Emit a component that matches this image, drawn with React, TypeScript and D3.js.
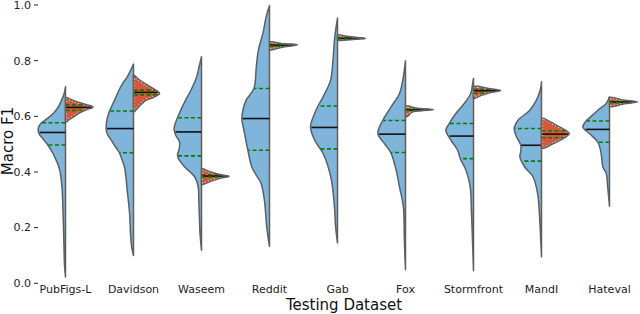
import * as d3 from 'd3';

const categories = ['PubFigs-L', 'Davidson', 'Waseem', 'Reddit', 'Gab', 'Fox', 'Stormfront', 'MandI', 'Hateval'];

// [macro F1, density], top to bottom
const pubfigsBlue: [number, number][] = [[0.706, 0], [0.68, 0.5], [0.658, 1.3], [0.63, 2.6], [0.61, 4.1], [0.59, 6.3], [0.577, 8], [0.56, 9.0], [0.55, 9.1], [0.535, 8.7], [0.52, 7.6], [0.497, 5.9], [0.475, 4.6], [0.454, 3.6], [0.43, 2.6], [0.406, 1.9], [0.37, 1.4], [0.335, 1.1], [0.25, 0.8], [0.13, 0.5], [0.06, 0.3], [0.023, 0]];
const davidsonBlue: [number, number][] = [[0.788, 0], [0.76, 1.2], [0.74, 2.2], [0.718, 3.6], [0.69, 5], [0.658, 6.3], [0.635, 7.3], [0.619, 8], [0.59, 8.8], [0.565, 9.1], [0.545, 9.0], [0.53, 8.4], [0.514, 7.4], [0.49, 6], [0.469, 4.7], [0.44, 3.7], [0.418, 3], [0.38, 2.5], [0.335, 2.1], [0.25, 1.3], [0.18, 1], [0.13, 0.6], [0.1, 0]];
const waseemBlue: [number, number][] = [[0.814, 0], [0.778, 0.8], [0.745, 1.5], [0.718, 2.5], [0.69, 3.7], [0.658, 5.3], [0.625, 6.8], [0.595, 8], [0.57, 8.9], [0.55, 9.1], [0.53, 8.5], [0.508, 7.3], [0.485, 7.4], [0.458, 8], [0.44, 7.2], [0.418, 5.6], [0.4, 3.8], [0.382, 2.2], [0.346, 1.1], [0.3, 0.9], [0.238, 0.7], [0.18, 0.5], [0.119, 0]];
const redditBlue: [number, number][] = [[0.998, 0], [0.958, 1.1], [0.898, 2.2], [0.838, 3.7], [0.778, 4.4], [0.7, 5.2], [0.658, 7.8], [0.625, 8.8], [0.592, 9.2], [0.538, 8.3], [0.478, 7.2], [0.418, 5.9], [0.385, 4.2], [0.359, 2.8], [0.299, 1.7], [0.2, 0.9], [0.133, 0]];
const gabBlue: [number, number][] = [[0.953, 0], [0.886, 0.9], [0.802, 1.5], [0.73, 2.3], [0.67, 4.8], [0.637, 6.5], [0.598, 8.1], [0.562, 9], [0.514, 7.6], [0.467, 4.8], [0.418, 3.1], [0.37, 2], [0.287, 1.1], [0.2, 0.6], [0.145, 0]];
const foxBlue: [number, number][] = [[0.8, 0], [0.73, 0.9], [0.682, 2], [0.634, 4.8], [0.585, 7.6], [0.538, 9.2], [0.502, 7], [0.467, 4.8], [0.406, 3.1], [0.346, 2], [0.274, 0.7], [0.166, 0.4], [0.1, 0.2], [0.049, 0]];
const stormfrontBlue: [number, number][] = [[0.736, 0], [0.71, 0.4], [0.682, 0.9], [0.646, 3.1], [0.61, 5.9], [0.574, 8.1], [0.55, 9.2], [0.514, 7.5], [0.478, 5.3], [0.448, 4.4], [0.406, 2.5], [0.346, 1.1], [0.263, 0.7], [0.143, 0.3], [0.045, 0]];
const mandiBlue: [number, number][] = [[0.724, 0], [0.706, 0.2], [0.682, 0.8], [0.658, 1.7], [0.622, 3.9], [0.586, 7.8], [0.556, 9.1], [0.526, 8.3], [0.496, 6.9], [0.475, 6.9], [0.454, 7.2], [0.418, 5.6], [0.382, 2.8], [0.323, 1.3], [0.25, 0.7], [0.166, 0.3], [0.095, 0]];
const hatevalBlue: [number, number][] = [[0.67, 0], [0.646, 1.1], [0.622, 3.9], [0.598, 6.3], [0.583, 7.8], [0.562, 8.9], [0.538, 6.7], [0.507, 3.9], [0.467, 2.8], [0.418, 2.2], [0.395, 1.1], [0.346, 0.6], [0.277, 0]];

const pubfigsRed: [number, number][] = [[0.668, 0.3], [0.66, 2.0], [0.65, 4.5], [0.642, 7], [0.636, 9], [0.632, 9.1], [0.626, 7.5], [0.615, 5.2], [0.6, 3.0], [0.59, 1.5], [0.58, 0.3]];
const davidsonRed: [number, number][] = [[0.748, 0.3], [0.735, 1.5], [0.718, 3.7], [0.7, 6.5], [0.69, 8], [0.682, 8.7], [0.675, 8], [0.665, 6], [0.658, 4.2], [0.645, 2.8], [0.634, 1.8], [0.616, 0.3]];
const waseemRed: [number, number][] = [[0.412, 0.5], [0.4, 3], [0.39, 6.5], [0.385, 9.2], [0.378, 6.5], [0.368, 3.5], [0.355, 0.5]];
const redditRed: [number, number][] = [[0.868, 1], [0.862, 4], [0.857, 9.3], [0.85, 5], [0.844, 2.5], [0.838, 0.5]];
const gabRed: [number, number][] = [[0.892, 1], [0.888, 3], [0.884, 6], [0.88, 9.3], [0.877, 6], [0.874, 3], [0.872, 1]];
const foxRed: [number, number][] = [[0.637, 1], [0.63, 3.5], [0.624, 9.3], [0.62, 5], [0.614, 2], [0.605, 1.2], [0.598, 0.3]];
const stormfrontRed: [number, number][] = [[0.708, 1.5], [0.7, 5], [0.693, 9.1], [0.686, 6], [0.678, 3.5], [0.67, 1.5], [0.664, 0.3]];
const mandiRed: [number, number][] = [[0.592, 1], [0.58, 3], [0.565, 5.5], [0.55, 8], [0.538, 9.3], [0.525, 8], [0.51, 5.5], [0.497, 3], [0.485, 0.8]];
const hatevalRed: [number, number][] = [[0.668, 1.2], [0.66, 4], [0.652, 9.4], [0.645, 5], [0.64, 3], [0.634, 0.8]];

const blueProfiles = [pubfigsBlue, davidsonBlue, waseemBlue, redditBlue, gabBlue, foxBlue, stormfrontBlue, mandiBlue, hatevalBlue];
const redProfiles = [pubfigsRed, davidsonRed, waseemRed, redditRed, gabRed, foxRed, stormfrontRed, mandiRed, hatevalRed];

const blueQ1 = [0.497, 0.469, 0.458, 0.478, 0.483, 0.47, 0.448, 0.439, 0.507];
const blueMedian = [0.542, 0.556, 0.544, 0.592, 0.56, 0.536, 0.529, 0.496, 0.553];
const blueQ3 = [0.577, 0.619, 0.595, 0.7, 0.637, 0.585, 0.574, 0.556, 0.583];
const redQ1 = [0.621, 0.677, 0.382, 0.852, 0.878, 0.621, 0.683, 0.523, 0.649];
const redMedian = [0.632, 0.686, 0.385, 0.855, 0.88, 0.623, 0.692, 0.536, 0.651];
const redQ3 = [0.641, 0.694, 0.389, 0.858, 0.882, 0.625, 0.697, 0.548, 0.653];

const yTicks = [0, 0.2, 0.4, 0.6, 0.8, 1.0];

const W = 640;
const H = 314;
const BLUE = '#7fb5db';
const RED = '#d4573b';
const EDGE = '#5f5f5f';

function densityAt(profile: [number, number][], v: number) {
  for (let i = 0; i < profile.length - 1; i++) {
    const [v0, d0] = profile[i];
    const [v1, d1] = profile[i + 1];
    if (v <= v0 && v >= v1) {
      const t = (v0 - v) / (v0 - v1 || 1);
      return d0 + (d1 - d0) * t;
    }
  }
  return 0;
}

export default function App() {
  const x = d3.scalePoint<string>().domain(categories).range([65.5, 609.5]);
  const y = d3.scaleLinear().domain([0, 1]).range([283.3, 5]);
  const w = d3.scaleLinear().domain([0, 10]).range([0, 30]);

  const half = (cx: number, side: number) =>
    d3.area<[number, number]>()
      .y(d => y(d[0]))
      .x0(cx)
      .x1(d => cx + side * w(d[1]))
      .curve(d3.curveCatmullRom);

  const qLine = (cx: number, side: number, profile: [number, number][], v: number, key: string, dashed: boolean) => {
    const ww = w(densityAt(profile, v)) * 0.97;
    return (
      <line key={key} x1={cx} x2={cx + side * ww} y1={y(v)} y2={y(v)}
        stroke={dashed ? 'green' : '#111'} strokeWidth={1.6}
        strokeDasharray={dashed ? '4,2.5' : undefined} />
    );
  };

  return (
    <svg width={W} height={H} style={{ position: 'absolute', left: 0, top: 0, fontFamily: 'DejaVu Sans' }}>
      <defs>
        {categories.map((c, i) => (
          <clipPath id={`rc${i}`} key={c}>
            <path d={half(x(c)!, 1)(redProfiles[i]) || ''} />
          </clipPath>
        ))}
      </defs>

      {/* y axis */}
      {yTicks.map(t => (
        <g key={t} transform={`translate(0,${y(t)})`}>
          <line x1={34} x2={38} stroke="#222" strokeWidth={1} />
          <text x={31} dy="0.35em" textAnchor="end" fontSize={11} fill="#222">{t.toFixed(1)}</text>
        </g>
      ))}
      <text transform={`translate(13,141) rotate(-90)`} textAnchor="middle" fontSize={15} fill="#111">Macro F1</text>

      {/* violins */}
      {categories.map((c, i) => {
        const cx = x(c)!;
        const bluePath = half(cx, -1)(blueProfiles[i]) || '';
        const redPath = half(cx, 1)(redProfiles[i]) || '';
        return (
          <g key={c}>
            <path d={bluePath} fill={BLUE} stroke={EDGE} strokeWidth={1.5} strokeLinejoin="round" />
            {qLine(cx, -1, blueProfiles[i], blueQ3[i], 'bq3', true)}
            {qLine(cx, -1, blueProfiles[i], blueMedian[i], 'bm', false)}
            {qLine(cx, -1, blueProfiles[i], blueQ1[i], 'bq1', true)}
            <path d={redPath} fill={RED} />
            <path d={redPath} fill="none" stroke="#fff" strokeOpacity={0.75} strokeWidth={3.2} strokeDasharray="1.2,2" clipPath={`url(#rc${i})`} />
            {qLine(cx, 1, redProfiles[i], redQ3[i], 'rq3', true)}
            {qLine(cx, 1, redProfiles[i], redMedian[i], 'rm', false)}
            {qLine(cx, 1, redProfiles[i], redQ1[i], 'rq1', true)}
            <path d={redPath} fill="none" stroke={EDGE} strokeWidth={1.5} strokeLinejoin="round" />
          </g>
        );
      })}

      {/* x axis labels */}
      {categories.map(c => (
        <text key={c} x={x(c)!} y={293} textAnchor="middle" fontSize={11} fill="#222">{c}</text>
      ))}
      <text x={344} y={310} textAnchor="middle" fontSize={15} fill="#111">Testing Dataset</text>
    </svg>
  );
}
